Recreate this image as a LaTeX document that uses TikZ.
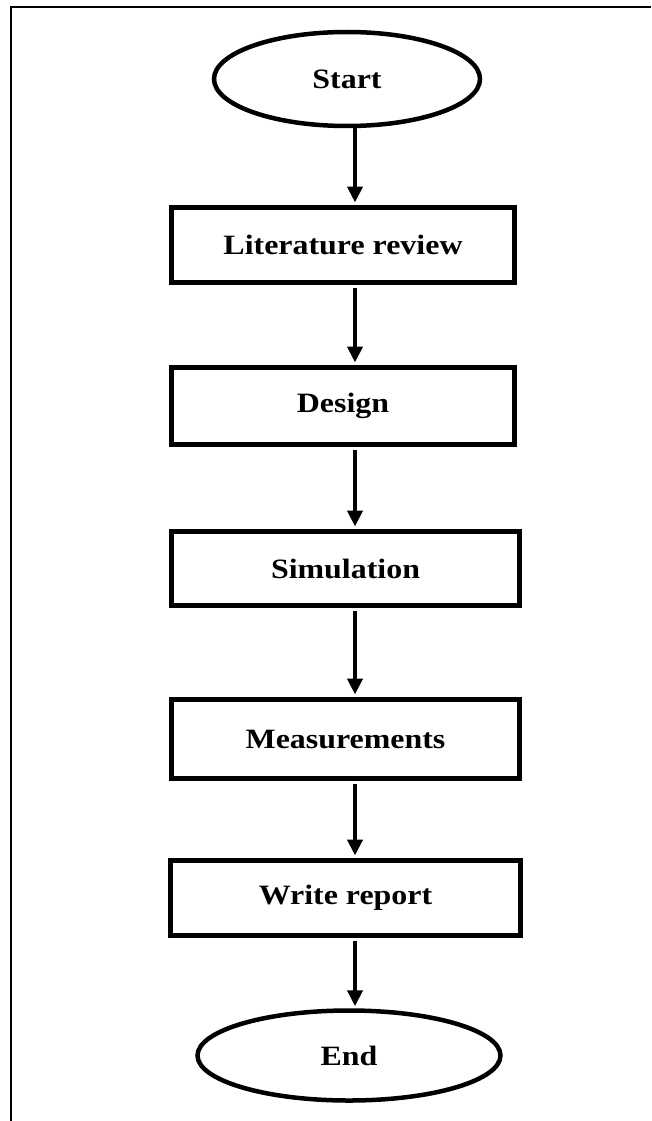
\documentclass[tikz,border=0pt]{standalone}
\usepackage{fontspec}
\setmainfont{Liberation Serif}
\newfontfamily\labfont[FakeStretch=1.14]{Liberation Serif}
\usetikzlibrary{shapes.geometric,arrows.meta}
\tikzset{
  lab/.style={font=\labfont\fontsize{28}{30}\selectfont\bfseries},
  procbox/.style={draw=black, line width=5pt, rectangle, lab, inner sep=0pt},
  term/.style={draw=black, line width=4.5pt, ellipse, lab, inner sep=0pt},
  arr/.style={draw=black, line width=4pt, -{Triangle[length=16pt,width=15pt]}},
  frameline/.style={draw=black, line width=2pt}
}
\begin{document}
\begin{tikzpicture}[x=1pt,y=-1pt]
\useasboundingbox (0,0) rectangle (651,1121);
\fill[white] (0,0) rectangle (651,1121);
% frame
\coordinate (fl) at (11,1121);
\coordinate (fc) at (11,7);
\coordinate (fr) at (651,7);
\draw[frameline] (fl) -- (fc) -- (fr);
% arrow axis
\coordinate (ax) at (355,0);
% nodes
\node[term, minimum width=266, minimum height=94] (start) at (347,79) {Start};
\node[procbox, minimum width=343, minimum height=75] (lit) at (343,245) {Literature review};
\node[procbox, minimum width=343, minimum height=77] (design) at (343,406) {Design};
\node[procbox, minimum width=348, minimum height=74] (sim) at (345.5,568.5) {Simulation};
\node[procbox, minimum width=348, minimum height=79] (meas) at (345.5,739) {Measurements};
\node[procbox, minimum width=350, minimum height=75] (write) at (345.5,898) {Write report};
\node[term, minimum width=303, minimum height=90] (end) at (349,1055.5) {End};
% connectors
\draw[arr] (start.south -| ax) -- ([yshift=2.5pt]lit.north -| ax);
\draw[arr] ([yshift=-2.5pt]lit.south -| ax) -- ([yshift=2.5pt]design.north -| ax);
\draw[arr] ([yshift=-2.5pt]design.south -| ax) -- ([yshift=2.5pt]sim.north -| ax);
\draw[arr] ([yshift=-2.5pt]sim.south -| ax) -- ([yshift=2.5pt]meas.north -| ax);
\draw[arr] ([yshift=-2.5pt]meas.south -| ax) -- ([yshift=2.5pt]write.north -| ax);
\draw[arr] ([yshift=-2.5pt]write.south -| ax) -- ([yshift=2pt]end.north -| ax);
\end{tikzpicture}
\end{document}
